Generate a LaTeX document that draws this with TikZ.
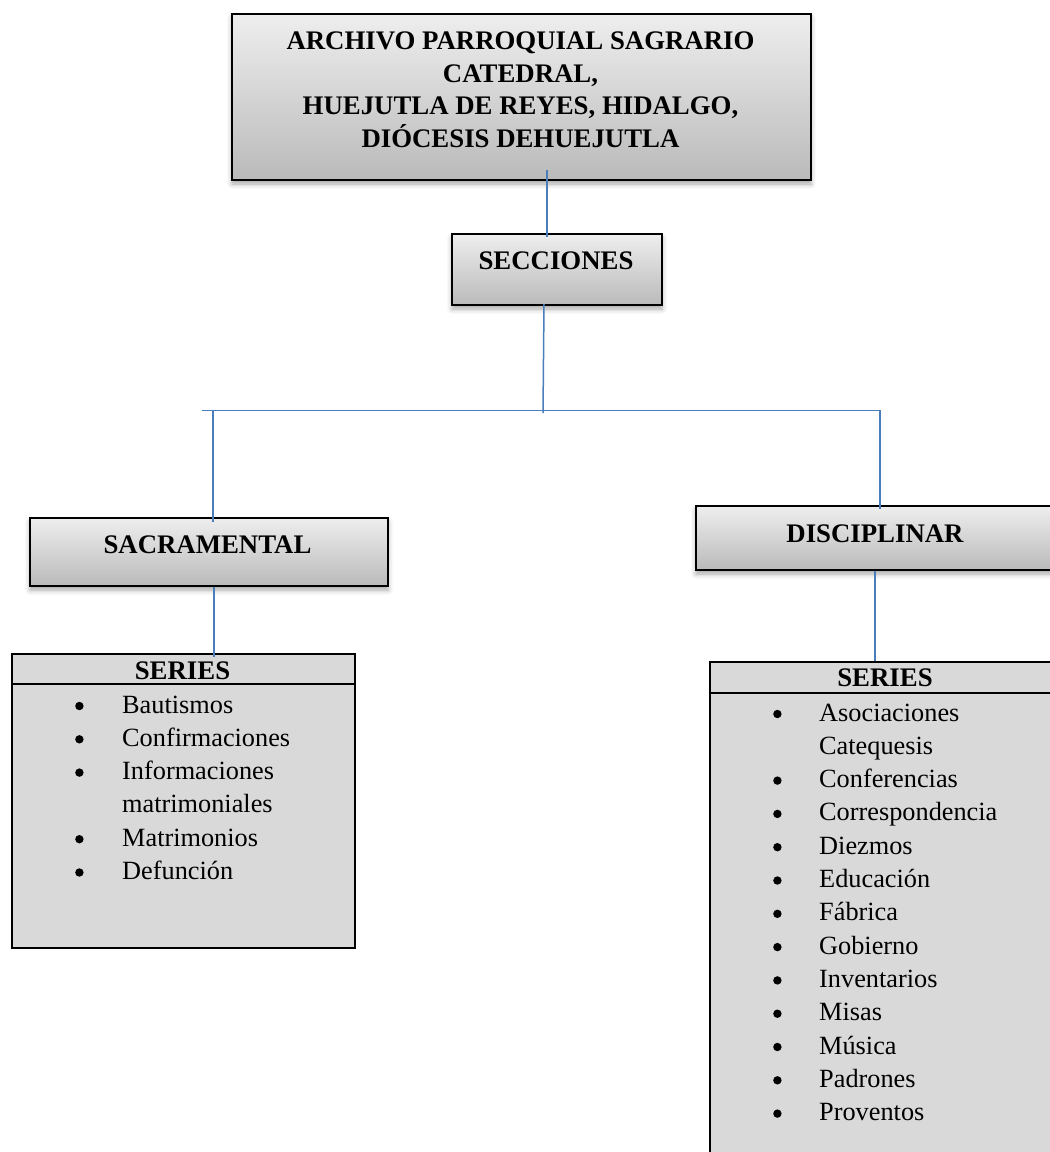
\documentclass[tikz,border=0pt]{standalone}
\usepackage{fontspec}
\setmainfont{Liberation Serif}
\usetikzlibrary{shadows.blur,calc}
\definecolor{linkblue}{HTML}{4A7EBB}
\definecolor{gtop}{HTML}{EEEEEE}
\definecolor{gbot}{HTML}{BABABA}
\definecolor{serfill}{HTML}{D9D9D9}
\newcommand{\mybul}{\tikz[baseline=0pt]\fill[black] (4.2pt,7pt) circle (4.2pt);}
\tikzset{
  gbox/.style={draw=black, line width=2pt, top color=gtop, bottom color=gbot,
    inner sep=0pt, anchor=north west,
    blur shadow={shadow xshift=0pt, shadow yshift=-4pt, shadow blur radius=5pt, shadow opacity=35}},
  serbox/.style={draw=black, line width=2pt, fill=serfill, inner sep=0pt, anchor=north west},
  link/.style={draw=linkblue, line width=1.5pt},
  lbl/.style={font=\fontsize{26.8}{32.4}\selectfont\bfseries, inner sep=0pt, anchor=base},
  lst/.style={font=\fontsize{26.3}{33.3}\selectfont, inner sep=0pt, anchor=base west},
}
\begin{document}
\begin{tikzpicture}[x=1pt,y=-1pt]
\useasboundingbox (0,0) rectangle (1050,1152);
\clip (0,0) rectangle (1050,1152);

% boxes
\node[gbox, minimum width=579pt, minimum height=166pt] (title) at (231,13) {};
\node[lbl, align=center] (titletext) at (520.5,147)
  {ARCHIVO PARROQUIAL SAGRARIO\\CATEDRAL,\\HUEJUTLA DE REYES, HIDALGO,\\DIÓCESIS DEHUEJUTLA};

\node[gbox, minimum width=210pt, minimum height=71pt] (secc) at (451,233) {};
\node[lbl] (secctext) at (556,269) {SECCIONES};

\node[gbox, minimum width=358pt, minimum height=68pt] (sac) at (29,517) {};
\node[lbl] (sactext) at (207.5,553) {SACRAMENTAL};

\node[gbox, minimum width=362pt, minimum height=64pt] (disc) at (695,505) {};
\node[lbl] (disctext) at (875,542) {DISCIPLINAR};

\node[serbox, minimum width=343pt, minimum height=294pt] (lser) at (11,653) {};
\draw[line width=2pt] ($(lser.north west)+(0,31)$) -- ($(lser.north east)+(0,31)$);
\node[lbl] (lsertext) at (182.5,679) {SERIES};
\node[lst] (llist) at (75,713) {%
  \begin{tabular}[t]{@{}p{47pt}@{}l@{}}
  \mybul & Bautismos\\
  \mybul & Confirmaciones\\
  \mybul & Informaciones\\
   & matrimoniales\\
  \mybul & Matrimonios\\
  \mybul & Defunción
  \end{tabular}};

\node[serbox, minimum width=352pt, minimum height=540pt] (rser) at (709,661) {};
\draw[line width=2pt] ($(rser.north west)+(0,32)$) -- ($(rser.north east)+(0,32)$);
\node[lbl] (rsertext) at (885,686) {SERIES};
\node[lst] (rlist) at (773,721) {%
  \begin{tabular}[t]{@{}p{46pt}@{}l@{}}
  \mybul & Asociaciones\\
   & Catequesis\\
  \mybul & Conferencias\\
  \mybul & Correspondencia\\
  \mybul & Diezmos\\
  \mybul & Educación\\
  \mybul & Fábrica\\
  \mybul & Gobierno\\
  \mybul & Inventarios\\
  \mybul & Misas\\
  \mybul & Música\\
  \mybul & Padrones\\
  \mybul & Proventos
  \end{tabular}};

% connectors
\coordinate (hub) at (543,413);
\coordinate (barL) at (202,410.5);
\coordinate (barR) at (880.5,410.5);
\coordinate (dL) at (213,410.5);
\coordinate (dR) at (880,410.5);

\draw[link] ($(title.south -| secc.north)+(-10,-11)$) -- ($(secc.north)+(-10,4)$);
\draw[link] ($(secc.south)+(-13,-2)$) -- (hub);
\draw[link] (barL) -- (barR);
\draw[link] (dL) -- ($(dL |- sac.north)+(0,5)$);
\draw[link] (dR) -- ($(dR |- disc.north)+(0,4)$);
\draw[link] ($(sac.south west)+(185,0)$) -- ($(lser.north -| sac.south west)+(185,4)$);
\draw[link] ($(disc.south west)+(180,0)$) -- ($(rser.north -| disc.south west)+(180,0)$);
\end{tikzpicture}
\end{document}
